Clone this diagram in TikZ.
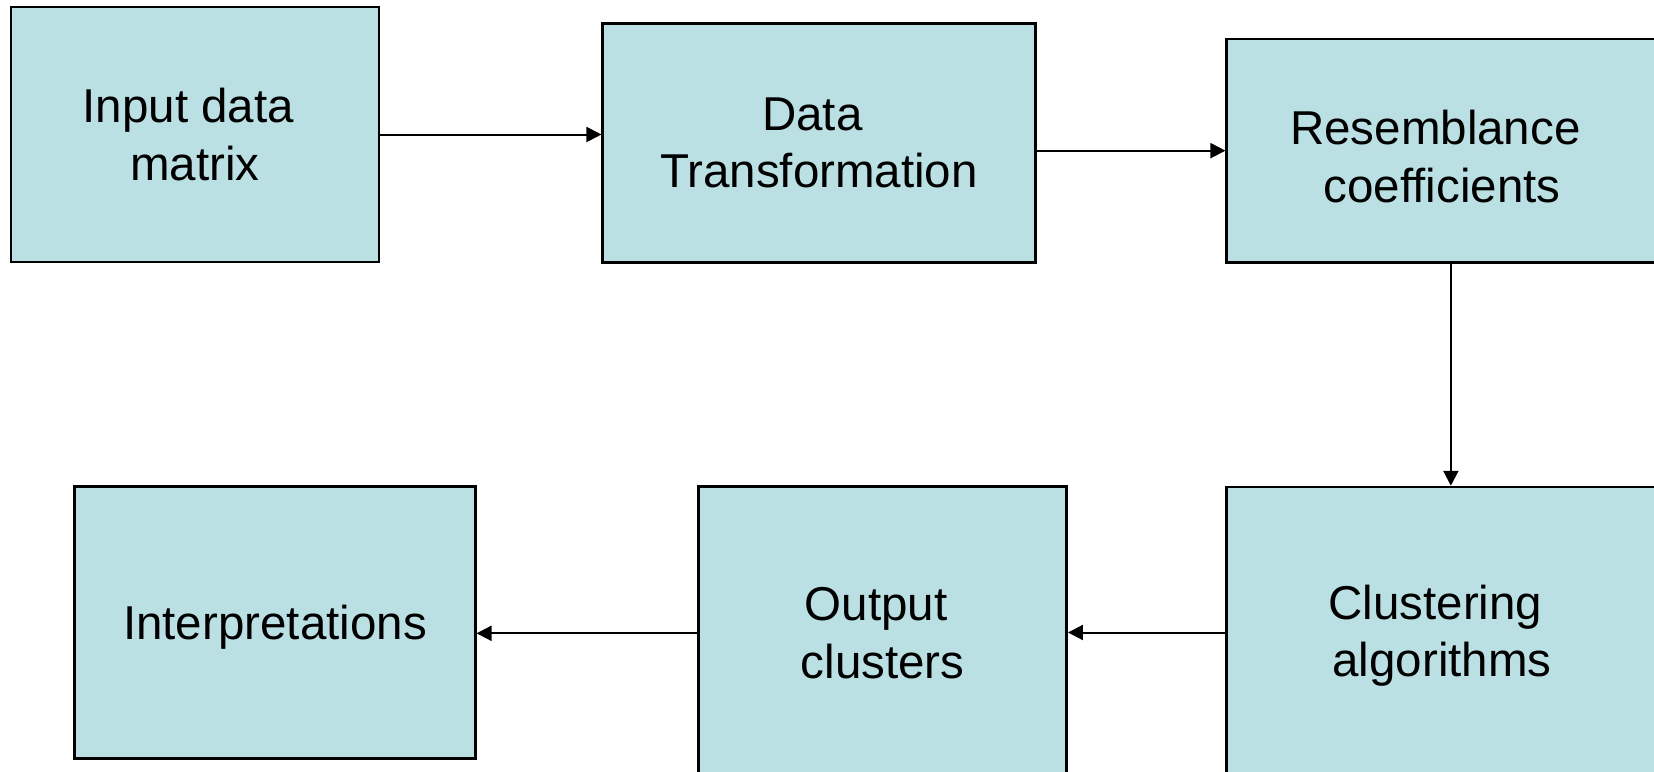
\documentclass[tikz,border=0pt]{standalone}
\usepackage{fontspec}
\setmainfont{Liberation Sans}
\usetikzlibrary{arrows.meta}
\definecolor{boxfill}{RGB}{187,224,227}
\newcommand{\tsp}{\hspace*{0.278em}}
\tikzset{
  stagebox/.style={draw=black, line width=1.25pt, fill=boxfill, rectangle,
    inner sep=0pt, align=center, font=\fontsize{23.75}{28.75}\selectfont},
  stagetext/.style={inner sep=0pt, align=center, font=\fontsize{23.75}{28.75}\selectfont},
  flow/.style={draw=black, line width=1pt, -{Triangle[length=7.5pt, width=7.5pt]}}
}
\begin{document}
\begin{tikzpicture}[x=0.5pt, y=-0.5pt]
  \useasboundingbox (0,0) rectangle (1654,771);
  \clip (0,0) rectangle (1654,771);
  \fill[white] (0,0) rectangle (1654,771);

  % top row
  \node[stagebox, minimum width=184pt, minimum height=127.5pt] (input) at (195,134.5)
    {Input data\tsp\\matrix};
  \node[stagebox, minimum width=216.3pt, minimum height=119.7pt] (transform) at (819,143)
    {Data\tsp\\Transformation};
  \node[stagebox, minimum width=224.15pt, minimum height=111.65pt] (resemb) at (1450.85,150.65) {};
  \node[stagetext] (resembtext) at (1442,156.5) {Resemblance\tsp\\coefficients};

  % bottom row
  \node[stagebox, minimum width=224.15pt, minimum height=145.5pt] (cluster) at (1450.85,632.5) {};
  \node[stagetext] (clustertext) at (1442,635.5) {Clustering\tsp\\algorithms};
  \node[stagebox, minimum width=184pt, minimum height=146.65pt] (output) at (882.7,633.3)
    {Output\tsp\\clusters};
  \node[stagebox, minimum width=200.3pt, minimum height=136pt, text depth=0pt] (interp) at (275,622.7)
    {Interpretations};

  % connectors
  \draw[flow] (input.east) -- (input.east -| transform.west);
  \draw[flow] (resemb.west -| transform.east) -- (resemb.west);
  \draw[flow] (resemb.south) -- (cluster.north);
  \draw[flow] (cluster.west) -- (cluster.west -| output.east);
  \draw[flow] (output.west) -- (output.west -| interp.east);
\end{tikzpicture}
\end{document}
